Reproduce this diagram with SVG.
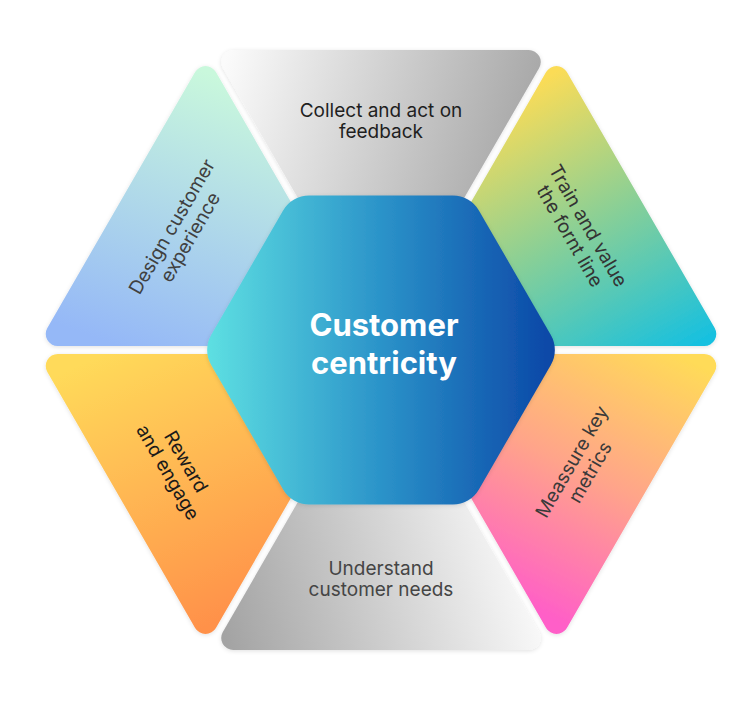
<svg xmlns="http://www.w3.org/2000/svg" width="746" height="705" viewBox="0 0 746 705">
  <defs>
    <linearGradient id="gTop" gradientUnits="userSpaceOnUse" x1="225" y1="60" x2="540" y2="150">
      <stop offset="0" stop-color="#fbfbfb"/>
      <stop offset="1" stop-color="#a3a3a3"/>
    </linearGradient>
    <linearGradient id="gBottom" gradientUnits="userSpaceOnUse" x1="225" y1="640" x2="540" y2="560">
      <stop offset="0" stop-color="#a3a3a3"/>
      <stop offset="1" stop-color="#fdfdfd"/>
    </linearGradient>
    <linearGradient id="gDesign" gradientUnits="userSpaceOnUse" x1="215" y1="75" x2="120" y2="346">
      <stop offset="0" stop-color="#c9f8dc"/>
      <stop offset="1" stop-color="#95b8f7"/>
    </linearGradient>
    <linearGradient id="gTrain" gradientUnits="userSpaceOnUse" x1="540" y1="80" x2="690" y2="350">
      <stop offset="0" stop-color="#fbdc57"/>
      <stop offset="0.5" stop-color="#86cf98"/>
      <stop offset="1" stop-color="#16c0e0"/>
    </linearGradient>
    <linearGradient id="gReward" gradientUnits="userSpaceOnUse" x1="90" y1="360" x2="210" y2="625">
      <stop offset="0" stop-color="#ffda5a"/>
      <stop offset="1" stop-color="#ff914a"/>
    </linearGradient>
    <linearGradient id="gMeasure" gradientUnits="userSpaceOnUse" x1="690" y1="360" x2="560" y2="625">
      <stop offset="0" stop-color="#ffdb58"/>
      <stop offset="0.5" stop-color="#ffa48a"/>
      <stop offset="1" stop-color="#ff5ec8"/>
    </linearGradient>
    <linearGradient id="gCenter" gradientUnits="userSpaceOnUse" x1="206" y1="350" x2="556" y2="350">
      <stop offset="0" stop-color="#5ee0e2"/>
      <stop offset="0.5" stop-color="#2b93c9"/>
      <stop offset="1" stop-color="#0a45a6"/>
    </linearGradient>
    <filter id="soft" x="-10%" y="-10%" width="120%" height="120%">
      <feDropShadow dx="0" dy="1" stdDeviation="2" flood-color="#000" flood-opacity="0.12"/>
    </filter>
  </defs>
  <style>
    .seg { filter: url(#soft); }
    .lbl { font-family: Inter, "Liberation Sans", sans-serif; font-size: 19px; text-anchor: middle; }
    .ctr { font-family: Inter, "Liberation Sans", sans-serif; font-size: 31px; font-weight: 700; fill: #ffffff; text-anchor: middle; }
  </style>
  <rect width="746" height="705" fill="#ffffff"/>

  <g id="node-collect">
    <path class="seg" fill="url(#gTop)" d="M233.21,50.03 L528.79,50.03 A12,12 0 0 1 539.18,68.03 L391.39,324 A12,12 0 0 1 370.61,324 L222.82,68.03 A12,12 0 0 1 233.21,50.03 Z"/>
    <text class="lbl" fill="#1f1f1f"><tspan x="381" y="117">Collect and act on</tspan><tspan x="381" y="138">feedback</tspan></text>
  </g>

  <g id="node-train">
    <path class="seg" fill="url(#gTrain)" d="M566.88,72.03 L714.67,328 A12,12 0 0 1 704.28,346 L408.71,346 A12,12 0 0 1 398.32,328 L546.1,72.03 A12,12 0 0 1 566.88,72.03 Z"/>
    <text class="lbl" fill="#333333" transform="translate(579 231) rotate(60)"><tspan x="0" y="-4">Train and value</tspan><tspan x="0" y="17">the fornt line</tspan></text>
  </g>

  <g id="node-measure">
    <path class="seg" fill="url(#gMeasure)" d="M714.67,372 L566.88,627.97 A12,12 0 0 1 546.1,627.97 L398.32,372 A12,12 0 0 1 408.71,354 L704.28,354 A12,12 0 0 1 714.67,372 Z"/>
    <text class="lbl" fill="#3a3a3a" transform="translate(581 467) rotate(-60)"><tspan x="0" y="-4">Meassure key</tspan><tspan x="0" y="17">metrics</tspan></text>
  </g>

  <g id="node-understand">
    <path class="seg" fill="url(#gBottom)" d="M528.79,649.97 L233.21,649.97 A12,12 0 0 1 222.82,631.97 L370.61,376 A12,12 0 0 1 391.39,376 L539.18,631.97 A12,12 0 0 1 528.79,649.97 Z"/>
    <text class="lbl" fill="#454545"><tspan x="381" y="575">Understand</tspan><tspan x="381" y="596">customer needs</tspan></text>
  </g>

  <g id="node-reward">
    <path class="seg" fill="url(#gReward)" d="M195.12,627.97 L47.33,372 A12,12 0 0 1 57.72,354 L353.29,354 A12,12 0 0 1 363.68,372 L215.9,627.97 A12,12 0 0 1 195.12,627.97 Z"/>
    <text class="lbl" fill="#1a1a1a" transform="translate(177 467) rotate(60)"><tspan x="0" y="-4">Reward</tspan><tspan x="0" y="17">and engage</tspan></text>
  </g>

  <g id="node-design">
    <path class="seg" fill="url(#gDesign)" d="M47.33,328 L195.12,72.03 A12,12 0 0 1 215.9,72.03 L363.68,328 A12,12 0 0 1 353.29,346 L57.72,346 A12,12 0 0 1 47.33,328 Z"/>
    <text class="lbl" fill="#404040" transform="translate(181 232) rotate(-60)"><tspan x="0" y="-4">Design customer</tspan><tspan x="0" y="17">experience</tspan></text>
  </g>

  <g id="node-center">
    <path class="seg" fill="url(#gCenter)" d="M309.07,195.42 L452.93,195.42 A30,30 0 0 1 478.91,210.42 L550.84,335 A30,30 0 0 1 550.84,365 L478.91,489.58 A30,30 0 0 1 452.93,504.58 L309.07,504.58 A30,30 0 0 1 283.09,489.58 L211.16,365 A30,30 0 0 1 211.16,335 L283.09,210.42 A30,30 0 0 1 309.07,195.42 Z"/>
    <text class="ctr"><tspan x="384" y="336">Customer</tspan><tspan x="384" y="374">centricity</tspan></text>
  </g>
</svg>
